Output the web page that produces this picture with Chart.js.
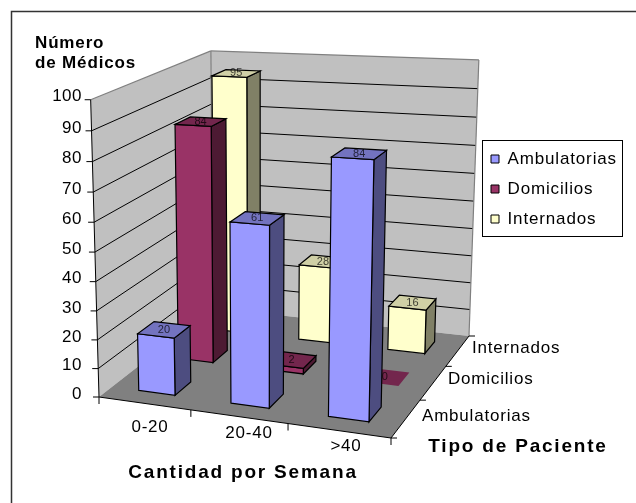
<!DOCTYPE html>
<html><head><meta charset="utf-8">
<style>html,body{margin:0;padding:0;background:#fff}canvas{display:block}</style>
<script src="https://cdn.jsdelivr.net/npm/chart.js@4/dist/chart.umd.js"></script>
</head><body><canvas id="c" width="636" height="503"></canvas>
<script>
// ---- data ----
const categories = ['0-20', '20-40', '>40'];
const seriesNames = ['Ambulatorias', 'Domicilios', 'Internados'];
const ambulatorias = [20, 61, 84];
const domicilios = [84, 2, 0];
const internados = [95, 28, 16];
const yTitle = ['Número', 'de Médicos'];
const xTitle = 'Cantidad por Semana';
const zTitle = 'Tipo de Paciente';
// ---- colours ----
const faceColors = ['#9999FF', '#993366', '#FFFFCC'];
const topColors = ['#7373BF', '#73264D', '#D0D0A6'];
const sideColors = ['#4D4D80', '#4D1A33', '#808066'];
// ---- layout of the 3D box (calibration of the camera against the picture) ----
const FONT = '"Liberation Sans", Arial, sans-serif';
const floorQuad = [[99, 397], [391, 438], [469, 336], [213, 308]];
const calib = [
  [0, 0, 1, 87, 96, 4], [0, 1, 1, 213, 53, 2], [1, 1, 1, 477, 66, 2], [0, 0, .5, 93, 251, 1],
  [.7667, .1, .84, 332, 157, 1], [.9, .1, .84, 374, 160, 1],
  [.1, .7667, .95, 214, 77, 1], [.2333, .7667, .95, 249, 79, 1],
  [.1, .4, .84, 176, 122, 1], [.2333, .4, .84, 213, 126, 1],
  [.4333, .1, .61, 230, 222, 1], [.5667, .1, .61, 270, 225, 1]
];
const xLabelPos = [[150, 427], [249, 433], [346, 446]];
const zLabelPos = [[422, 416], [448, 379], [472, 348]];
const BAR = 0.4 / 3;

// perspective camera: floor homography plus a vertical column
const [[x0, y0], [x1, y1], [x2, y2], [x3, y3]] = floorQuad;
const dx1 = x1 - x2, dx2 = x3 - x2, sx = x0 - x1 + x2 - x3;
const dy1 = y1 - y2, dy2 = y3 - y2, sy = y0 - y1 + y2 - y3;
const den = dx1 * dy2 - dx2 * dy1;
const g = (sx * dy2 - dx2 * sy) / den, h = (dx1 * sy - sx * dy1) / den;
const a = x1 - x0 + g * x1, b = x3 - x0 + h * x3, c = x0;
const d = y1 - y0 + g * y1, e = y3 - y0 + h * y3, f = y0;
// weighted least squares for A, B, C
const N = [[0,0,0,0],[0,0,0,0],[0,0,0,0]];
function addEq(r, rhs, k) { for (let i = 0; i < 3; i++) { for (let j = 0; j < 3; j++) N[i][j] += k * r[i] * r[j]; N[i][3] += k * r[i] * rhs; } }
calib.forEach(([u, v, w, X, Y, k]) => {
  const q = g * u + h * v + 1;
  addEq([w, 0, -X * w], X * q - (a * u + b * v + c), k);
  addEq([0, w, -Y * w], Y * q - (d * u + e * v + f), k);
});
for (let i = 0; i < 3; i++) {
  let p = i; for (let k = i + 1; k < 3; k++) if (Math.abs(N[k][i]) > Math.abs(N[p][i])) p = k;
  [N[i], N[p]] = [N[p], N[i]];
  for (let k = 0; k < 3; k++) if (k !== i) { const m = N[k][i] / N[i][i]; for (let j = i; j < 4; j++) N[k][j] -= m * N[i][j]; }
}
const A = N[0][3] / N[0][0], B = N[1][3] / N[1][1], C = N[2][3] / N[2][2];
function P(u, v, w) {
  const q = g * u + h * v + C * w + 1;
  return [(a * u + b * v + A * w + c) / q, (d * u + e * v + B * w + f) / q];
}

// y axis that follows the perspective of the front wall edge
class PerspectiveScale extends Chart.LinearScale {
  getPixelForValue(v) { return P(0, 0, (v - this.min) / (this.max - this.min))[1] - 3; }
  drawLabels(area) {
    this.ctx.save(); this.ctx.letterSpacing = '0.5px';
    super.drawLabels(area);
    this.ctx.restore();
  }
}
PerspectiveScale.id = 'perspective';
PerspectiveScale.defaults = Chart.LinearScale.defaults;
Chart.register(PerspectiveScale);

function poly(ctx, pts, fill, stroke, lw) {
  ctx.beginPath();
  pts.forEach((p, i) => i ? ctx.lineTo(p[0], p[1]) : ctx.moveTo(p[0], p[1]));
  ctx.closePath();
  if (fill) { ctx.fillStyle = fill; ctx.fill(); }
  if (stroke) { ctx.strokeStyle = stroke; ctx.lineWidth = lw || 1; ctx.stroke(); }
}
function seg(ctx, p, q, col, lw) {
  ctx.beginPath(); ctx.moveTo(p[0], p[1]); ctx.lineTo(q[0], q[1]);
  ctx.strokeStyle = col; ctx.lineWidth = lw || 1; ctx.stroke();
}
function text(ctx, s, x, y, font, align, spacing) {
  ctx.font = font; ctx.textAlign = align; ctx.textBaseline = 'middle';
  ctx.fillStyle = '#000'; ctx.letterSpacing = spacing + 'px';
  ctx.fillText(s, x, y);
}

const scene = {
  id: 'scene',
  afterLayout(chart) {
    const l = chart.legend;
    l.left = 478; l.top = 137.5; l.right = 623; l.bottom = 300;
  },
  beforeDraw(chart) {
    const ctx = chart.ctx;
    ctx.letterSpacing = '0.85px';
    ctx.save();
    ctx.fillStyle = '#fff'; ctx.fillRect(0, 0, chart.width, chart.height);
    ctx.beginPath(); ctx.moveTo(11.5, 503); ctx.lineTo(11.5, 11.5); ctx.lineTo(636, 11.5);
    ctx.strokeStyle = '#333'; ctx.lineWidth = 1.5; ctx.stroke();
    ctx.restore();
  },
  beforeDatasetsDraw(chart) {
    const ctx = chart.ctx, { x, y, z } = chart.scales;
    ctx.save();
    ctx.lineJoin = 'miter';
    // walls and floor
    poly(ctx, [P(0, 0, 0), P(0, 1, 0), P(0, 1, 1), P(0, 0, 1)], '#C0C0C0');
    poly(ctx, [P(0, 1, 0), P(1, 1, 0), P(1, 1, 1), P(0, 1, 1)], '#C0C0C0');
    poly(ctx, [P(0, 0, 0), P(1, 0, 0), P(1, 1, 0), P(0, 1, 0)], '#808080');
    // gridlines
    y.ticks.forEach(t => {
      const w = (t.value - y.min) / (y.max - y.min);
      if (w > 0 && w < 1) {
        seg(ctx, P(0, 0, w), P(0, 1, w), '#000');
        seg(ctx, P(0, 1, w), P(1, 1, w), '#000');
      }
    });
    // wall edges
    seg(ctx, P(0, 0, 1), P(0, 1, 1), '#808080', 1.2);
    seg(ctx, P(0, 1, 1), P(1, 1, 1), '#808080', 1.2);
    seg(ctx, P(1, 1, 1), P(1, 1, 0), '#808080', 1.2);
    seg(ctx, P(0, 1, 0), P(0, 1, 1), '#808080', 1.2);
    // axes
    seg(ctx, P(0, 0, 1), P(0, 0, 0), '#000');
    seg(ctx, P(0, 0, 0), P(1, 0, 0), '#000');
    seg(ctx, P(1, 0, 0), P(1, 1, 0), '#000');
    y.ticks.forEach(t => {
      const p = P(0, 0, (t.value - y.min) / (y.max - y.min));
      seg(ctx, p, [p[0] - 6, p[1]], '#000');
    });
    for (let i = 0; i <= categories.length; i++) {
      const p = P(i / categories.length, 0, 0);
      seg(ctx, p, [p[0], p[1] + 7], '#000');
    }
    for (let i = 0; i <= seriesNames.length; i++) {
      const p = P(1, i / seriesNames.length, 0);
      seg(ctx, p, [p[0] + 6, p[1]], '#000');
    }
    // bars, back row first and left to right
    for (let di = chart.data.datasets.length - 1; di >= 0; di--) {
      const ds = chart.data.datasets[di];
      const vc = (z.getPixelForValue(di) - z.left) / z.width;
      ds.data.forEach((val, i) => {
        const uc = (x.getPixelForValue(i) - x.left) / x.width;
        const w = (val - y.min) / (y.max - y.min);
        const u0 = uc - BAR / 2, u1 = uc + BAR / 2, v0 = vc - BAR / 2, v1 = vc + BAR / 2;
        const line = val > 0 ? '#000' : null;
        if (val > 0) {
          poly(ctx, [P(u1, v0, 0), P(u1, v1, 0), P(u1, v1, w), P(u1, v0, w)], sideColors[di], line, 1.2);
          poly(ctx, [P(u0, v0, 0), P(u1, v0, 0), P(u1, v0, w), P(u0, v0, w)], faceColors[di], line, 1.2);
        }
        poly(ctx, [P(u0, v0, w), P(u1, v0, w), P(u1, v1, w), P(u0, v1, w)], topColors[di], line, 1.2);
        const m = P(uc, vc, w);
        ctx.font = '11px ' + FONT; ctx.textAlign = 'center'; ctx.textBaseline = 'middle';
        ctx.letterSpacing = '0px'; ctx.fillStyle = 'rgba(0,0,0,0.72)';
        ctx.fillText(String(val), m[0], m[1]);
      });
    }
    // axis category text and titles
    categories.forEach((s, i) => text(ctx, s, xLabelPos[i][0], xLabelPos[i][1], '17px ' + FONT, 'center', 0.8));
    seriesNames.forEach((s, i) => text(ctx, s, zLabelPos[i][0], zLabelPos[i][1], '17px ' + FONT, 'left', 0.8));
    text(ctx, xTitle, 243, 473, 'bold 19px ' + FONT, 'center', 1.8);
    text(ctx, zTitle, 518, 447, 'bold 19px ' + FONT, 'center', 1.8);
    ctx.restore();
    return false;
  },
  afterDraw(chart) {
    const ctx = chart.ctx;
    ctx.save();
    ctx.strokeStyle = '#000'; ctx.lineWidth = 1;
    ctx.strokeRect(482.5, 140.5, 140, 96);
    ctx.restore();
  }
};

new Chart(document.getElementById('c'), {
  type: 'bar',
  data: {
    labels: categories,
    datasets: [
      { label: seriesNames[0], data: ambulatorias, backgroundColor: faceColors[0], borderColor: '#000', borderWidth: 1 },
      { label: seriesNames[1], data: domicilios, backgroundColor: faceColors[1], borderColor: '#000', borderWidth: 1 },
      { label: seriesNames[2], data: internados, backgroundColor: faceColors[2], borderColor: '#000', borderWidth: 1 }
    ]
  },
  plugins: [scene],
  options: {
    responsive: false,
    animation: false,
    events: [],
    layout: { padding: { left: 35, top: 33, right: 0, bottom: 0 } },
    scales: {
      x: { display: false, offset: true },
      z: { type: 'category', axis: 'x', labels: seriesNames, offset: true, display: false },
      y: {
        type: 'perspective', position: 'left', min: 0, max: 100,
        afterFit(s) { s.width = 48; },
        border: { display: false },
        grid: { display: false, drawTicks: false },
        ticks: { stepSize: 10, autoSkip: false, padding: 1, color: '#000', font: { family: FONT, size: 17 } }
      }
    },
    plugins: {
      tooltip: { enabled: false },
      title: {
        display: true, text: yTitle, align: 'start', color: '#000',
        padding: 0, font: { family: FONT, size: 17, weight: 'bold', lineHeight: 1.18 }
      },
      legend: {
        position: 'chartArea', align: 'start',
        labels: { boxWidth: 8, boxHeight: 8, padding: 13, color: '#000', font: { family: FONT, size: 17 } }
      }
    }
  }
});
</script></body></html>
